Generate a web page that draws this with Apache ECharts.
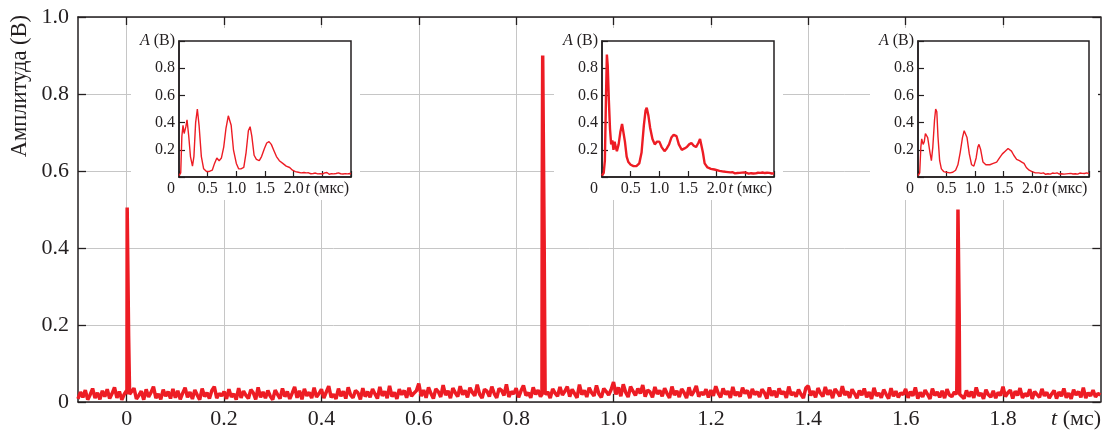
<!DOCTYPE html>
<html><head><meta charset="utf-8">
<script src="https://cdn.jsdelivr.net/npm/echarts@6/dist/echarts.min.js"></script>
<style>html,body{margin:0;padding:0;background:#fff}#c{width:1104px;height:430px}</style>
</head><body><div id="c"></div>
<script>
// ---------- DATA ----------
// Main trace: noise samples in millivolts, sampled every 0.005 ms starting at -0.1 ms
const MAIN_T0 = -0.1, MAIN_DT = 0.005;
const noiseMV = [
 8,26,12,31,6,19,35,10,24,7,29,14,33,9,22,38,11,27,6,20,
 30,9,24,36,8,17,28,6,33,13,25,40,10,21,7,32,15,27,9,34,
 11,29,7,23,37,12,26,8,31,18,6,35,14,24,9,30,40,10,22,16,
 27,8,33,13,21,6,36,11,28,17,9,32,24,7,38,12,26,10,30,15,
 6,31,19,9,35,14,27,8,23,39,11,29,7,34,16,25,10,37,13,22,
 33,10,26,41,12,20,8,35,15,28,9,38,18,11,30,24,7,36,14,27,
 12,34,21,9,39,16,28,10,42,14,25,8,33,19,30,11,37,15,23,29,
 48,15,31,11,38,22,9,34,27,13,44,18,29,10,36,24,14,41,19,30,
 12,37,25,16,45,20,10,33,28,14,40,22,11,35,30,17,46,13,27,21,
 36,12,29,43,17,24,11,38,20,31,14,42,19,26,10,34,23,15,39,18,
 28,40,14,33,22,11,45,19,30,13,37,24,16,43,21,12,35,27,18,32,
 52,20,38,15,46,25,13,40,28,17,35,22,44,14,31,26,12,39,21,30,
 15,36,22,11,40,18,29,13,34,24,10,38,17,27,42,14,25,19,33,12,
 31,16,41,23,12,35,20,28,11,39,17,26,14,37,22,30,10,34,19,27,
 13,33,24,9,38,16,29,12,35,21,27,11,40,18,25,14,32,20,10,36,
 42,17,28,12,36,23,14,39,19,31,10,34,25,15,41,18,27,11,33,22,
 10,30,18,35,12,26,8,37,16,23,11,32,20,9,36,15,28,12,24,19,
 34,11,27,16,38,9,25,13,31,20,8,35,17,26,12,29,10,33,18,14,
 26,12,35,18,9,30,14,27,11,38,16,23,8,32,19,13,29,10,25,17,
 40,14,24,31,9,28,17,36,11,22,15,33,8,27,19,12,34,16,25,10,
 21,30,9,26,15,35,11,23,8,32,18,27,12,37,10,24,16,31,13,22,
 18
];
// Pulses (t in ms, amplitude in V)
const pulse1T = [0.0005, 0.001, 0.0035, 0.004, 0.0055, 0.006];
const pulse1V = [0.02, 0.505, 0.505, 0.17, 0.17, 0.02];
const pulse2T = [0.853, 0.8535, 0.8545, 0.857, 0.8575, 0.859, 0.8595];
const pulse2V = [0.02, 0.52, 0.90, 0.90, 0.42, 0.42, 0.02];
const pulse3T = [1.705, 1.7055, 1.707, 1.7075, 1.7095, 1.710, 1.7105, 1.711];
const pulse3V = [0.02, 0.10, 0.10, 0.50, 0.505, 0.23, 0.23, 0.02];

// Insets (t in µs, amplitude in V)
const inset1T = [0,0.03,0.05,0.07,0.09,0.12,0.14,0.17,0.2,0.235,0.26,0.29,0.32,0.35,0.39,0.43,0.48,0.52,0.58,0.62,0.66,0.70,0.74,0.78,0.82,0.86,0.88,0.91,0.95,1.0,1.04,1.08,1.13,1.17,1.21,1.24,1.27,1.31,1.35,1.40,1.44,1.49,1.53,1.57,1.61,1.66,1.70,1.75,1.81,1.87,1.93,1.98,2.03,2.08,2.13];
const inset1V = [0.01,0.03,0.30,0.38,0.32,0.37,0.42,0.30,0.15,0.08,0.15,0.40,0.50,0.38,0.15,0.06,0.04,0.04,0.05,0.10,0.14,0.12,0.14,0.22,0.36,0.45,0.46,0.38,0.20,0.10,0.06,0.06,0.07,0.18,0.34,0.37,0.30,0.16,0.13,0.12,0.15,0.21,0.25,0.26,0.24,0.19,0.15,0.12,0.10,0.08,0.07,0.05,0.04,0.035,0.03];
const inset2T = [0,0.03,0.05,0.07,0.085,0.10,0.12,0.14,0.16,0.18,0.20,0.22,0.24,0.26,0.29,0.32,0.35,0.37,0.40,0.43,0.46,0.50,0.55,0.60,0.65,0.69,0.73,0.76,0.78,0.81,0.84,0.88,0.92,0.96,1.0,1.04,1.09,1.13,1.17,1.21,1.25,1.30,1.34,1.39,1.44,1.48,1.52,1.56,1.60,1.64,1.68,1.71,1.73,1.76,1.79,1.84,1.90,1.96,2.05,2.12];
const inset2V = [0.01,0.03,0.12,0.60,0.90,0.82,0.56,0.35,0.24,0.27,0.20,0.26,0.22,0.19,0.24,0.33,0.39,0.38,0.26,0.15,0.11,0.09,0.08,0.08,0.10,0.18,0.38,0.49,0.51,0.45,0.36,0.28,0.24,0.26,0.26,0.22,0.19,0.21,0.24,0.29,0.31,0.30,0.24,0.20,0.21,0.22,0.24,0.25,0.23,0.22,0.25,0.28,0.27,0.18,0.10,0.07,0.06,0.055,0.045,0.04];
const inset3T = [0,0.03,0.05,0.065,0.09,0.11,0.13,0.15,0.17,0.19,0.21,0.235,0.26,0.29,0.31,0.33,0.35,0.38,0.41,0.45,0.50,0.56,0.61,0.66,0.70,0.74,0.78,0.81,0.83,0.86,0.90,0.94,0.98,1.02,1.05,1.07,1.10,1.14,1.19,1.26,1.32,1.38,1.43,1.48,1.53,1.58,1.61,1.64,1.68,1.73,1.78,1.82,1.86,1.90,1.95,2.0,2.06,2.12];
const inset3V = [0.01,0.03,0.22,0.28,0.24,0.26,0.32,0.31,0.29,0.30,0.18,0.12,0.22,0.42,0.50,0.48,0.30,0.12,0.06,0.04,0.035,0.03,0.035,0.05,0.09,0.18,0.29,0.34,0.34,0.29,0.17,0.09,0.08,0.14,0.22,0.24,0.20,0.11,0.09,0.09,0.10,0.11,0.14,0.17,0.19,0.21,0.21,0.19,0.16,0.13,0.12,0.11,0.10,0.07,0.05,0.04,0.03,0.03];
// Inset noise tails in mV, every 0.02 µs from 2.16 µs
const TAIL_T0 = 2.16, TAIL_DT = 0.02;
const tail1MV = [28,33,25,30,22,31,27,24,32,26,21,29,34,23,28,25,31,22,27,30,24,33,26,20,29,25,32,23,28,26,21,30,27,24,31,22,29,25,33,23,27,26,24];
const tail2MV = [38,33,36,30,34,28,35,31,27,33,29,36,30,26,32,28,34,27,31,29,25,33,28,30,26,32,27,29,31,25,30,28,33,26,29,27,31,24,30,28,26,32,27];
const tail3MV = [27,22,30,25,20,28,24,31,21,26,29,23,27,19,30,25,22,28,24,32,21,26,23,29,25,20,27,30,22,26,24,28,21,25,29,23,27,22,26,24,30,21,25];

// Tick labels
const MAIN_X_TICKS = [0,0.2,0.4,0.6,0.8,1.0,1.2,1.4,1.6,1.8];
const MAIN_X_NAME_POS = 1.95;
const MAIN_X_NAME = 't (мс)';
const MAIN_Y_NAME = 'Амплитуда (В)';
const INSET_Y_NAME = 'A (В)';
const INSET_X_NAME = 't (мкс)';

// ---------- BUILD ----------
const RED = '#ed1c24', DARK = '#231f20', GRID = '#c6c6c6';
const FONT = "'Liberation Serif','DejaVu Serif',serif";

const pulses = [[pulse1T,pulse1V],[pulse2T,pulse2V],[pulse3T,pulse3V]];
let mainData = [];
noiseMV.forEach((mv,i)=>{
  const t = MAIN_T0 + i*MAIN_DT;
  const inPulse = pulses.some(([T])=> t>=T[0]-1e-9 && t<=T[T.length-1]+1e-9);
  if(!inPulse) mainData.push([t, mv/1000]);
});
pulses.forEach(([T,V])=>T.forEach((t,i)=>mainData.push([t,V[i]])));
mainData.sort((a,b)=>a[0]-b[0]);

function insetData(T,V,tail){
  const d = T.map((t,i)=>[t,V[i]]);
  tail.forEach((mv,i)=>d.push([TAIL_T0+i*TAIL_DT, mv/1000]));
  return d;
}
const insets = [
  {left:179, width:172, data:insetData(inset1T,inset1V,tail1MV), lw:1.4},
  {left:602, width:172, data:insetData(inset2T,inset2V,tail2MV), lw:2.4},
  {left:918, width:171, data:insetData(inset3T,inset3V,tail3MV), lw:1.4}
];
const INSET_TOP = 41, INSET_H = 136;
const LBL = 22, ILBL = 16;

const grids = [{left:78, right:2, top:17, bottom:28}];
const xAxes = [
  {type:'value', gridIndex:0, min:-0.1, max:2.0, position:'bottom', z:0,
   axisLine:{show:true, onZero:false, lineStyle:{color:DARK, width:1.5}},
   axisTick:{show:true, inside:true, length:8, customValues:MAIN_X_TICKS, lineStyle:{color:DARK, width:1.3}},
   axisLabel:{customValues:MAIN_X_TICKS.concat([MAIN_X_NAME_POS]), margin:6, color:DARK, fontFamily:FONT, fontSize:LBL,
     formatter:v=>{ if(Math.abs(v-MAIN_X_NAME_POS)<1e-6) return '{i|t}'+MAIN_X_NAME.slice(1); return Math.abs(v)<1e-9?'0':v.toFixed(1); },
     rich:{i:{fontStyle:'italic', fontFamily:FONT, fontSize:LBL, color:DARK}}},
   splitLine:{show:true, lineStyle:{color:GRID, width:1}}},
  {type:'value', gridIndex:0, min:-0.1, max:2.0, position:'top', z:0,
   axisLine:{show:true, onZero:false, lineStyle:{color:DARK, width:1.5}},
   axisTick:{show:true, inside:true, length:8, customValues:MAIN_X_TICKS, lineStyle:{color:DARK, width:1.3}},
   axisLabel:{show:false}, splitLine:{show:false}}
];
const yAxes = [
  {type:'value', gridIndex:0, min:0, max:1, interval:0.2, position:'left', z:0,
   axisLine:{show:true, onZero:false, lineStyle:{color:DARK, width:1.5}},
   axisTick:{show:true, inside:true, length:8, lineStyle:{color:DARK, width:1.3}},
   axisLabel:{margin:9, color:DARK, fontFamily:FONT, fontSize:LBL, formatter:v=>v===0?'0':v.toFixed(1)},
   splitLine:{show:true, lineStyle:{color:GRID, width:1}},
   name:MAIN_Y_NAME, nameLocation:'end', nameRotate:90, nameGap:2, nameMoveOverlap:false,
   nameTextStyle:{fontFamily:FONT, fontSize:22.5, color:DARK, align:'right', verticalAlign:'bottom', padding:[0,0,46,0]}},
  {type:'value', gridIndex:0, min:0, max:1, interval:0.2, position:'right', z:0,
   axisLine:{show:true, onZero:false, lineStyle:{color:DARK, width:1.5}},
   axisTick:{show:true, inside:true, length:8, lineStyle:{color:DARK, width:1.3}},
   axisLabel:{show:false}, splitLine:{show:false}}
];
const series = [{type:'line', xAxisIndex:0, yAxisIndex:0, data:mainData, showSymbol:false, symbol:'none',
  lineStyle:{color:RED, width:3.5}, itemStyle:{color:RED}, z:2, sampling:null, animation:false}];
const graphics = [];

insets.forEach((ins,k)=>{
  const gi = k+1;
  grids.push({left:ins.left, top:INSET_TOP, width:ins.width, height:INSET_H, show:true,
    borderColor:DARK, borderWidth:1.5, backgroundColor:'#fff', z:3});
  graphics.push({type:'rect', shape:{x:ins.left-48, y:28, width:ins.width+57, height:172},
    style:{fill:'#fff'}, z:1, silent:true});
  xAxes.push({type:'value', gridIndex:gi, min:0, max:3, interval:0.5, z:3,
    axisLine:{show:true, onZero:false, lineStyle:{color:DARK, width:1.5}},
    axisTick:{show:true, inside:true, length:6, lineStyle:{color:DARK, width:1.2}},
    axisLabel:{margin:4, color:DARK, fontFamily:FONT, fontSize:ILBL, showMinLabel:true, showMaxLabel:true,
      formatter:v=>{ if(v===0) return '{o|0}'; if(Math.abs(v-2.5)<1e-9) return '{p|}{i|t}{n|'+INSET_X_NAME.slice(1)+'}'; if(v>2.6) return ''; return v.toFixed(1);},
      rich:{o:{padding:[0,16,0,0], fontFamily:FONT, fontSize:ILBL, color:DARK},
            p:{width:10, fontSize:ILBL},
            i:{fontStyle:'italic', fontFamily:FONT, fontSize:ILBL, color:DARK},
            n:{fontFamily:FONT, fontSize:ILBL, color:DARK}}},
    splitLine:{show:false}});
  yAxes.push({type:'value', gridIndex:gi, min:0, max:1, interval:0.2, z:3,
    axisLine:{show:true, onZero:false, lineStyle:{color:DARK, width:1.5}},
    axisTick:{show:true, inside:true, length:6, lineStyle:{color:DARK, width:1.2}},
    axisLabel:{margin:4, color:DARK, fontFamily:FONT, fontSize:ILBL, formatter:v=>(v===0||v===1)?'':v.toFixed(1)},
    splitLine:{show:false},
    name:'{i|A}'+INSET_Y_NAME.slice(1), nameLocation:'end', nameGap:0, nameMoveOverlap:false,
    nameTextStyle:{fontFamily:FONT, fontSize:ILBL, color:DARK, align:'right', verticalAlign:'middle', padding:[0,4,0,0],
      rich:{i:{fontStyle:'italic', fontFamily:FONT, fontSize:ILBL, color:DARK}}}});
  series.push({type:'line', xAxisIndex:gi+1, yAxisIndex:gi+1, data:ins.data, showSymbol:false, symbol:'none',
    lineStyle:{color:RED, width:ins.lw}, z:4, animation:false});
});

const chart = echarts.init(document.getElementById('c'), null, {renderer:'canvas'});
chart.setOption({
  animation:false,
  backgroundColor:'#fff',
  textStyle:{fontFamily:FONT},
  grid:grids, xAxis:xAxes, yAxis:yAxes, series:series,
  graphic:{elements:graphics}
});
</script></body></html>
